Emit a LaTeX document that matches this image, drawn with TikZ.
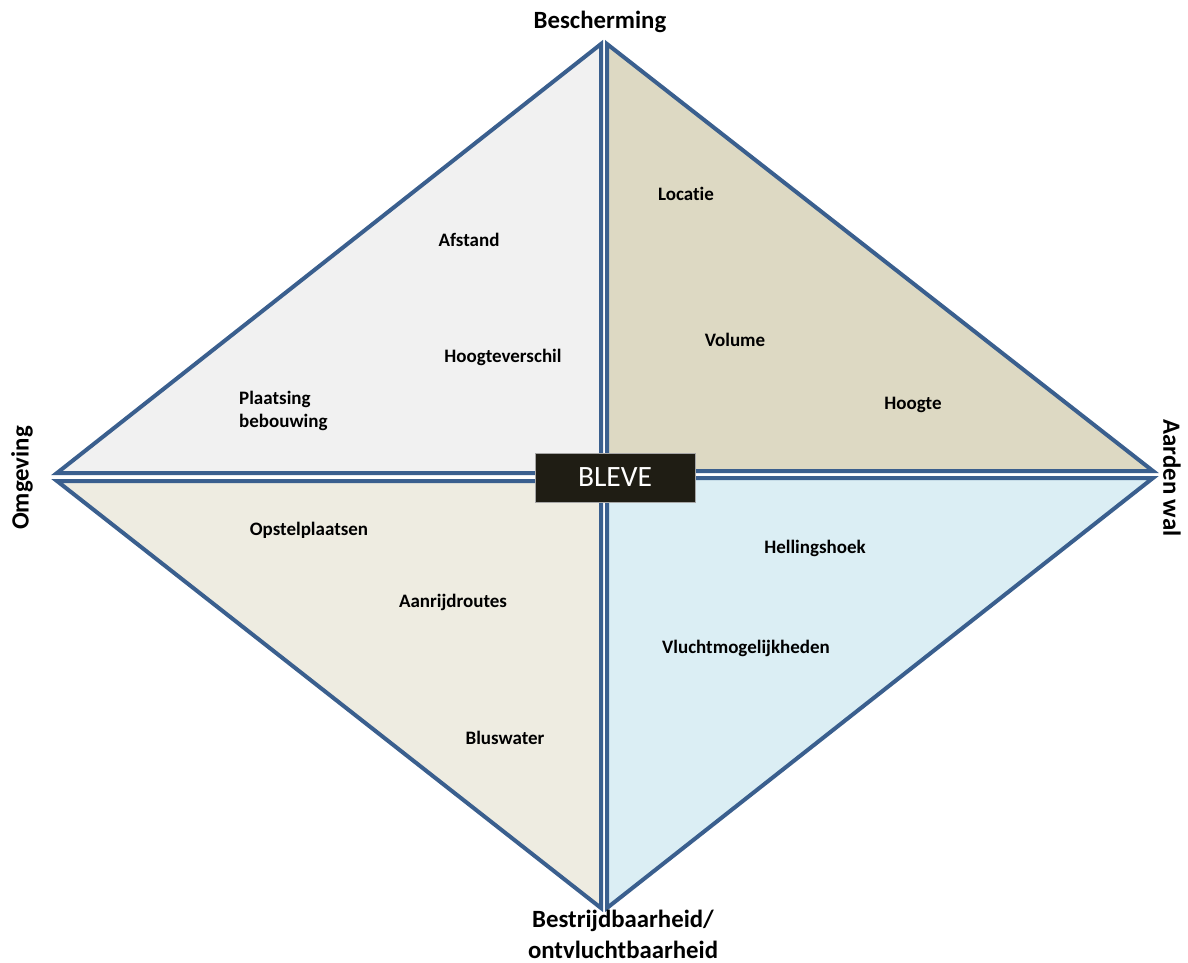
\documentclass[tikz,border=0pt]{standalone}
\usepackage{fontspec}
\setmainfont{Carlito}[Ligatures={NoCommon}]
\definecolor{edge}{HTML}{3A5F8E}
\definecolor{fillTL}{HTML}{F1F1F1}
\definecolor{fillTR}{HTML}{DDD9C3}
\definecolor{fillBL}{HTML}{EEECE1}
\definecolor{fillBR}{HTML}{DBEEF4}
\definecolor{boxfill}{HTML}{1F1D14}
\begin{document}
\begin{tikzpicture}[x=1pt,y=-1pt,
  tri/.style={draw=edge,line width=4pt,line join=miter},
  item/.style={font=\fontsize{19}{23}\selectfont\bfseries,text=black,inner sep=0pt,align=left},
  axis/.style={font=\fontsize{24.8}{31}\selectfont\bfseries,text=black,inner sep=0pt,align=center}]
\useasboundingbox (0,0) rectangle (1188,963);
\fill[white] (0,0) rectangle (1188,963);

% four quadrants of the diamond
\draw[tri,fill=fillTL] (57,473) -- (601,44) -- (601,473) -- cycle;
\draw[tri,fill=fillTR] (607,44) -- (1153,471) -- (607,471) -- cycle;
\draw[tri,fill=fillBL] (57,481) -- (601,481) -- (601,908) -- cycle;
\draw[tri,fill=fillBR] (607,478) -- (1153,478) -- (607,908) -- cycle;

% central label
\node[fill=boxfill,draw=gray!70,line width=0.8pt,minimum width=160pt,minimum height=49pt,
      text=white,font=\fontsize{29.5}{30}\selectfont,inner sep=0pt] (bleve) at (615,477.5) {BLEVE};

% corner headings
\node[axis] (bescherming) at (600,22) {Bescherming};
\node[axis,rotate=90] (omgeving) at (22,478) {Omgeving};
\node[axis,rotate=-90] (aardenwal) at (1172,478) {Aarden wal};
\node[axis] (bestrijd) at (623,934) {Bestrijdbaarheid/\\ontvluchtbaarheid};

% factors per quadrant
\node[item] (afstand) at (469,240) {Afstand};
\node[item] (hoogteverschil) at (503,357) {Hoogteverschil};
\node[item,anchor=west] (plaatsing) at (239,411) {Plaatsing\\bebouwing};
\node[item] (locatie) at (686,194) {Locatie};
\node[item] (volume) at (735,340) {Volume};
\node[item] (hoogte) at (913,405) {Hoogte};
\node[item] (opstel) at (309,530) {Opstelplaatsen};
\node[item] (aanrijd) at (453,602) {Aanrijdroutes};
\node[item] (bluswater) at (505,738) {Bluswater};
\node[item] (helling) at (815,548) {Hellingshoek};
\node[item] (vlucht) at (746,648) {Vluchtmogelijkheden};
\end{tikzpicture}
\end{document}
